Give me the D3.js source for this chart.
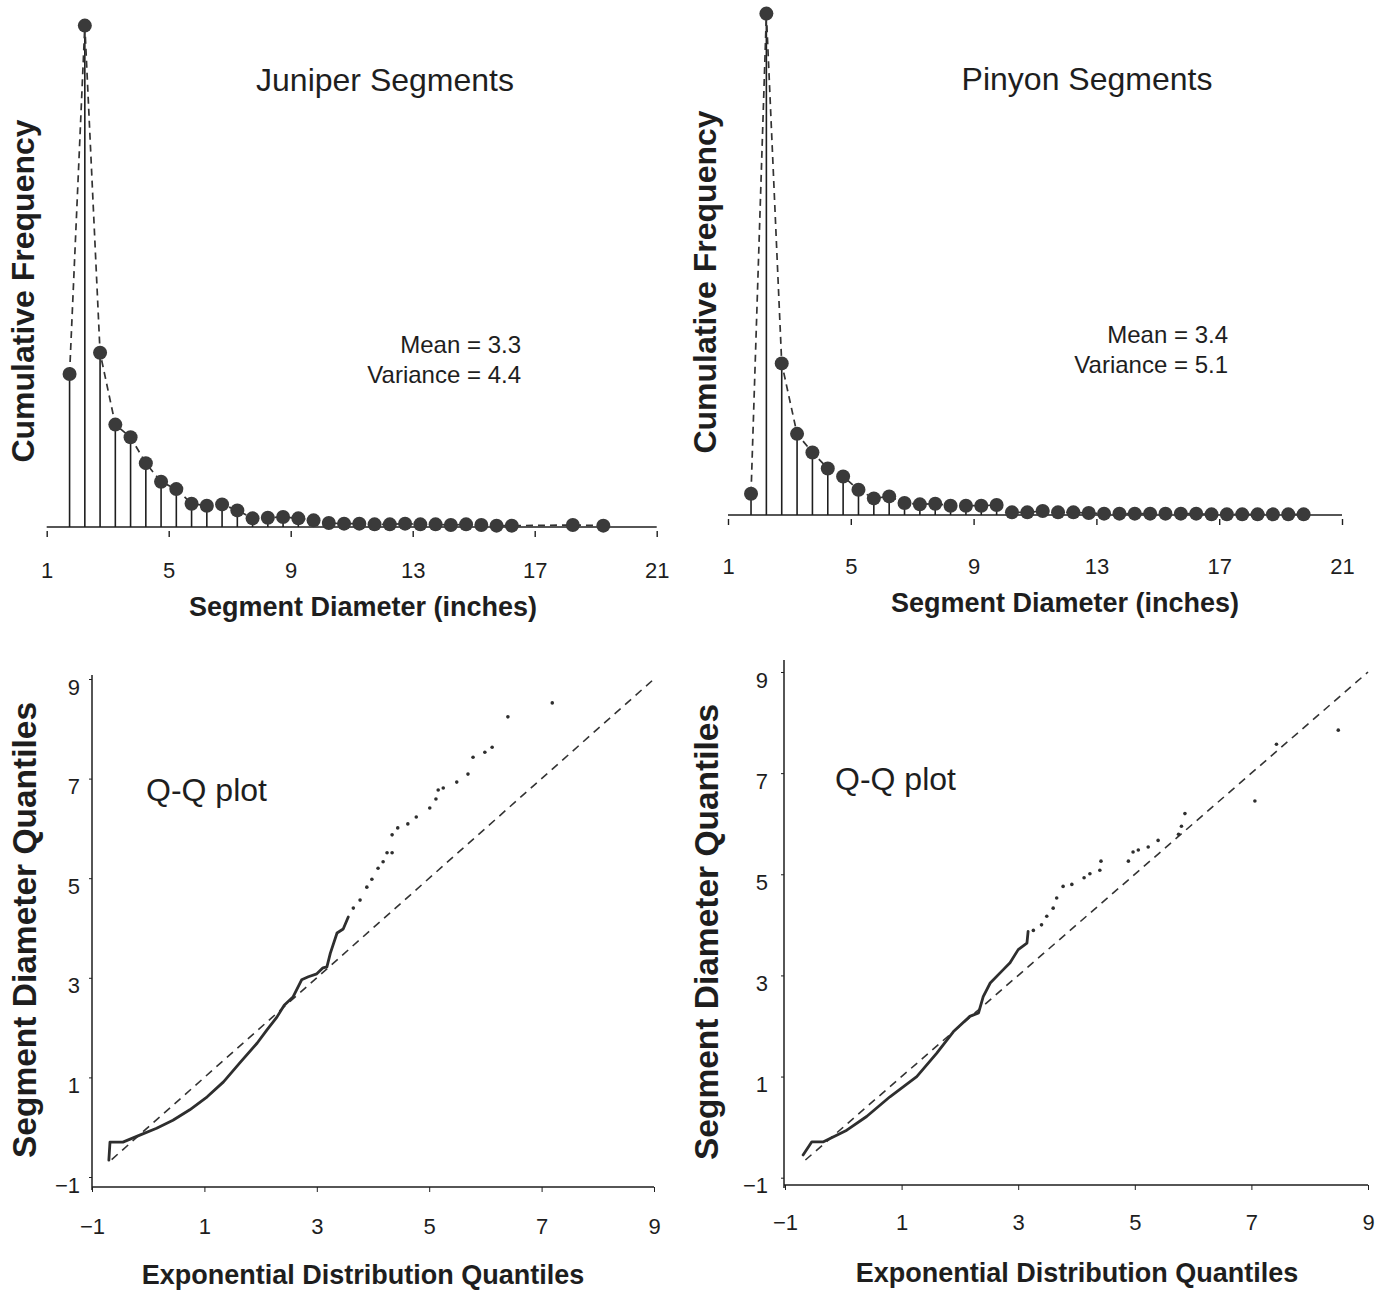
<!DOCTYPE html>
<html>
<head>
<meta charset="utf-8">
<script src="https://cdn.jsdelivr.net/npm/d3@7"></script>
<style>
  body { margin: 0; background: #fff; }
</style>
</head>
<body>
<div id="chart"></div>
<script>
const FONT = "'Liberation Sans', Arial, Helvetica, sans-serif";
const INK = "#1e1e1e";

// ---- data: segment diameter frequency (%) ----
const juniperDiam = [1.75, 2.25, 2.75, 3.25, 3.75, 4.25, 4.75, 5.25, 5.75, 6.25, 6.75, 7.25, 7.75, 8.25, 8.75, 9.25,
  9.75, 10.25, 10.75, 11.25, 11.75, 12.25, 12.75, 13.25, 13.75, 14.25, 14.75, 15.25, 15.75, 16.25, 18.25, 19.25];
const juniperFreq = [11.5, 37.7, 13.1, 7.7, 6.75, 4.8, 3.4, 2.85, 1.75, 1.6, 1.7, 1.25, 0.65, 0.7, 0.75, 0.65,
  0.5, 0.3, 0.25, 0.25, 0.2, 0.2, 0.25, 0.2, 0.2, 0.15, 0.2, 0.15, 0.1, 0.1, 0.15, 0.1];

const pinyonDiam = [1.75, 2.25, 2.75, 3.25, 3.75, 4.25, 4.75, 5.25, 5.75, 6.25, 6.75, 7.25, 7.75, 8.25, 8.75, 9.25,
  9.75, 10.25, 10.75, 11.25, 11.75, 12.25, 12.75, 13.25, 13.75, 14.25, 14.75, 15.25, 15.75, 16.25, 16.75, 17.25,
  17.75, 18.25, 18.75, 19.25, 19.75];
const pinyonFreq = [1.6, 37.7, 11.4, 6.1, 4.7, 3.5, 2.9, 1.9, 1.25, 1.4, 0.9, 0.8, 0.85, 0.7, 0.7, 0.7,
  0.75, 0.2, 0.2, 0.3, 0.2, 0.2, 0.15, 0.1, 0.1, 0.1, 0.1, 0.1, 0.1, 0.1, 0.05, 0.05,
  0.05, 0.05, 0.05, 0.05, 0.05];

const diamTicks = [1, 5, 9, 13, 17, 21];

// ---- data: Q-Q plot, [exponential quantile, segment diameter quantile] ----
const juniperQQLine = [[-0.70, -0.66], [-0.68, -0.30], [-0.45, -0.30], [-0.15, -0.16], [0.15, -0.02], [0.44, 0.14],
  [0.74, 0.35], [1.05, 0.61], [1.34, 0.91], [1.63, 1.29], [1.94, 1.69], [2.11, 1.95], [2.29, 2.21], [2.42, 2.45],
  [2.58, 2.62], [2.73, 2.96], [2.85, 3.02], [3.00, 3.08], [3.11, 3.20], [3.18, 3.22], [3.24, 3.49], [3.36, 3.90],
  [3.47, 3.98], [3.56, 4.22]];
const juniperQQDots = [[3.65, 4.40], [3.77, 4.56], [3.89, 4.82], [3.98, 4.98], [4.09, 5.20], [4.18, 5.33],
  [4.25, 5.51], [4.34, 5.51], [4.34, 5.87], [4.44, 6.01], [4.62, 6.09], [4.77, 6.23], [5.01, 6.41], [5.12, 6.59],
  [5.16, 6.77], [5.25, 6.81], [5.49, 6.93], [5.69, 7.09], [5.78, 7.43], [5.99, 7.53], [6.12, 7.63], [6.40, 8.24],
  [7.19, 8.52]];

const pinyonQQLine = [[-0.69, -0.55], [-0.54, -0.29], [-0.34, -0.29], [0.06, -0.06], [0.40, 0.21], [0.80, 0.60],
  [1.26, 1.00], [1.60, 1.46], [1.89, 1.89], [2.17, 2.19], [2.32, 2.26], [2.40, 2.58], [2.52, 2.85], [2.74, 3.11],
  [2.86, 3.25], [3.00, 3.51], [3.15, 3.64], [3.17, 3.87]];
const pinyonQQDots = [[3.26, 3.89], [3.40, 4.00], [3.49, 4.17], [3.60, 4.33], [3.66, 4.53], [3.77, 4.76],
  [3.92, 4.80], [4.13, 4.93], [4.23, 5.01], [4.40, 5.08], [4.42, 5.26], [4.89, 5.26], [4.97, 5.44], [5.06, 5.48],
  [5.23, 5.54], [5.40, 5.67], [5.75, 5.79], [5.80, 5.95], [5.86, 6.20], [7.06, 6.45], [7.43, 7.57], [8.49, 7.85]];

const quantTicks = [-1, 1, 3, 5, 7, 9];
const refLine = [-0.65, 9];

// append the svg object to the body of the page
const svg = d3.select("#chart")
  .append("svg")
  .attr("width", 1378)
  .attr("height", 1291)
  .style("font-family", FONT);

function addText(g, txt, x, y, size, opts) {
  opts = opts || {};
  const t = g.append("text")
    .attr("x", x)
    .attr("y", y)
    .attr("font-size", size)
    .attr("font-weight", opts.bold ? "bold" : "normal")
    .attr("text-anchor", opts.anchor || "middle")
    .attr("fill", INK)
    .text(txt);
  if (opts.rotate) {
    t.attr("x", 0).attr("y", 0).attr("transform", `translate(${x},${y}) rotate(-90)`);
  }
  return t;
}

// ---------------------------- frequency stem plots ----------------------------
function stemPlot(o) {
  const x = d3.scaleLinear().domain([1, 21]).range(o.xRange);
  const y = d3.scaleLinear().domain([0, 38]).range([o.base, o.base - 38 * 13.3]);
  const pts = o.diam.map((d, i) => ({d: d, f: o.freq[i]}));
  const g = svg.append("g");

  // baseline
  g.append("line")
    .attr("x1", x(1)).attr("x2", x(21))
    .attr("y1", o.base).attr("y2", o.base)
    .attr("stroke", INK).attr("stroke-width", 1.6);

  // stems
  g.selectAll(".stem")
    .data(pts)
    .join("line")
    .attr("class", "stem")
    .attr("x1", p => x(p.d)).attr("x2", p => x(p.d))
    .attr("y1", o.base).attr("y2", p => y(p.f))
    .attr("stroke", INK).attr("stroke-width", 1.6);

  // dashed connecting line
  g.append("path")
    .datum(pts)
    .attr("fill", "none")
    .attr("stroke", "#333")
    .attr("stroke-width", 1.7)
    .attr("stroke-dasharray", "7,5")
    .attr("d", d3.line().x(p => x(p.d)).y(p => y(p.f)));

  // dots
  g.selectAll(".dot")
    .data(pts)
    .join("circle")
    .attr("class", "dot")
    .attr("cx", p => x(p.d))
    .attr("cy", p => y(p.f))
    .attr("r", 7)
    .attr("fill", "#3a3a3a");

  // X axis (ticks sit a little under the baseline)
  const ax = g.append("g")
    .attr("transform", `translate(0,${o.base + 4})`)
    .call(d3.axisBottom(x).tickValues(diamTicks).tickSize(6).tickFormat(d3.format("d")));
  ax.select(".domain").remove();
  ax.selectAll("line").attr("stroke", INK).attr("stroke-width", 1.4);
  ax.selectAll("text")
    .attr("y", o.labelY - o.base - 4)
    .attr("dy", 0)
    .attr("font-family", FONT)
    .attr("font-size", 22)
    .attr("fill", INK);

  addText(g, o.title, o.titleX, o.titleY, 32);
  addText(g, o.mean, o.statX, o.statY, 24, {anchor: "end"});
  addText(g, o.variance, o.statX, o.statY + 30, 24, {anchor: "end"});
  addText(g, "Segment Diameter (inches)", o.xTitleX, o.xTitleY, 27, {bold: true});
  addText(g, "Cumulative Frequency", o.yTitleX, o.yTitleY, 32, {bold: true, rotate: true});
}

stemPlot({
  diam: juniperDiam, freq: juniperFreq,
  xRange: [46.7, 656.7], base: 527, labelY: 578,
  title: "Juniper Segments", titleX: 385, titleY: 91,
  mean: "Mean = 3.3", variance: "Variance = 4.4", statX: 521, statY: 353,
  xTitleX: 363, xTitleY: 616, yTitleX: 34, yTitleY: 291
});

stemPlot({
  diam: pinyonDiam, freq: pinyonFreq,
  xRange: [728, 1342], base: 515, labelY: 574,
  title: "Pinyon Segments", titleX: 1087, titleY: 90,
  mean: "Mean = 3.4", variance: "Variance = 5.1", statX: 1228, statY: 343,
  xTitleX: 1065, xTitleY: 612, yTitleX: 716, yTitleY: 282
});

// ---------------------------------- Q-Q plots ----------------------------------
function qqPlot(o) {
  const x = d3.scaleLinear().domain([-1, 9]).range(o.xRange);
  const y = d3.scaleLinear().domain([-1, 9]).range(o.yRange);
  const g = svg.append("g");

  // axis lines
  g.append("line")
    .attr("x1", o.axisX).attr("x2", o.axisX)
    .attr("y1", o.yTop).attr("y2", o.axisY + 3)
    .attr("stroke", INK).attr("stroke-width", 1.5);
  g.append("line")
    .attr("x1", o.axisX).attr("x2", x(9))
    .attr("y1", o.axisY).attr("y2", o.axisY)
    .attr("stroke", INK).attr("stroke-width", 1.5);

  // Y axis
  const ay = g.append("g")
    .attr("transform", `translate(${o.axisX},0)`)
    .call(d3.axisLeft(y).tickValues(quantTicks).tickSize(3));
  ay.select(".domain").remove();
  ay.selectAll("line").attr("stroke", INK);
  ay.selectAll("text")
    .attr("x", o.yLabelEnd - o.axisX)
    .attr("dy", 0)
    .attr("transform", "translate(0,15)")
    .attr("font-family", FONT)
    .attr("font-size", 22)
    .attr("fill", INK);

  // X axis
  const ax = g.append("g")
    .attr("transform", `translate(0,${o.axisY})`)
    .call(d3.axisBottom(x).tickValues(quantTicks).tickSize(5));
  ax.select(".domain").remove();
  ax.selectAll("line").attr("stroke", INK);
  ax.selectAll("text")
    .attr("y", o.xLabelY - o.axisY)
    .attr("dy", 0)
    .attr("font-family", FONT)
    .attr("font-size", 22)
    .attr("fill", INK);

  // y = x reference line
  g.append("line")
    .attr("x1", x(refLine[0])).attr("y1", y(refLine[0]))
    .attr("x2", x(refLine[1])).attr("y2", y(refLine[1]))
    .attr("stroke", "#333")
    .attr("stroke-width", 1.6)
    .attr("stroke-dasharray", "8,6");

  // dense part of the sample quantiles
  g.append("path")
    .datum(o.line)
    .attr("fill", "none")
    .attr("stroke", "#2e2e2e")
    .attr("stroke-width", 2.8)
    .attr("stroke-linejoin", "round")
    .attr("stroke-linecap", "round")
    .attr("d", d3.line().x(d => x(d[0])).y(d => y(d[1])));

  // sparse upper quantiles
  g.selectAll(".qq")
    .data(o.dots)
    .join("circle")
    .attr("class", "qq")
    .attr("cx", d => x(d[0]))
    .attr("cy", d => y(d[1]))
    .attr("r", 1.8)
    .attr("fill", "#2e2e2e");

  addText(g, "Q-Q plot", o.qqX, o.qqY, 32, {anchor: "start"});
  addText(g, "Exponential Distribution Quantiles", o.xTitleX, o.xTitleY, 27, {bold: true});
  addText(g, "Segment Diameter Quantiles", o.yTitleX, o.yTitleY, 33.5, {bold: true, rotate: true});
}

qqPlot({
  line: juniperQQLine, dots: juniperQQDots,
  xRange: [92, 654], yRange: [1177, 679],
  axisX: 92, axisY: 1187, yTop: 675,
  yLabelEnd: 80, xLabelY: 1234,
  qqX: 146, qqY: 801,
  xTitleX: 363, xTitleY: 1284, yTitleX: 36, yTitleY: 930
});

qqPlot({
  line: pinyonQQLine, dots: pinyonQQDots,
  xRange: [785, 1368], yRange: [1177.7, 672],
  axisX: 784, axisY: 1185, yTop: 660,
  yLabelEnd: 768, xLabelY: 1230,
  qqX: 835, qqY: 790,
  xTitleX: 1077, xTitleY: 1282, yTitleX: 718, yTitleY: 932
});
</script>
</body>
</html>
